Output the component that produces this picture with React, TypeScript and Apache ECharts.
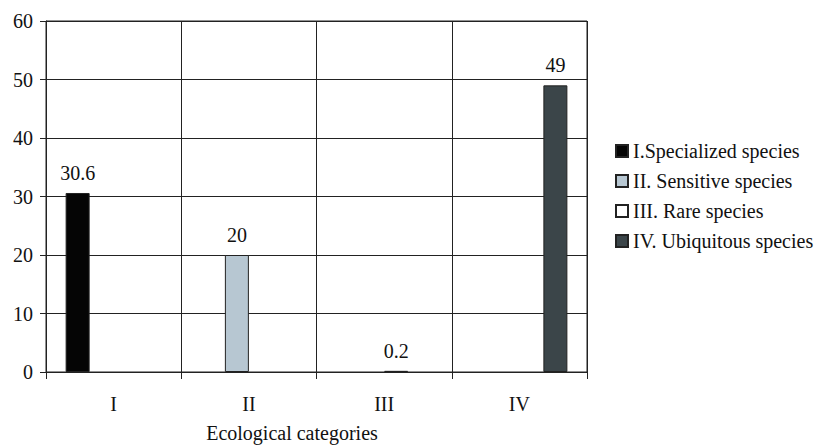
import React, { useEffect, useRef } from "react";
import * as echarts from "echarts";

const categories = ["I", "II", "III", "IV"];
const seriesNames = [
  "I.Specialized species",
  "II. Sensitive species",
  "III. Rare species",
  "IV. Ubiquitous species",
];
const values = [30.6, 20, 0.2, 49];
const colors = ["#050505", "#b7c7d2", "#ffffff", "#3b4549"];
const yTicks = [0, 60, 10];
const xAxisTitle = "Ecological categories";

const FONT = "'Liberation Serif', 'Times New Roman', serif";

export default function App() {
  const ref = useRef<HTMLDivElement>(null);
  useEffect(() => {
    if (!ref.current) return;
    const chart = echarts.init(ref.current, undefined, { renderer: "svg" });
    const series = seriesNames.map((name, i) => ({
      name,
      type: "bar",
      barWidth: 24,
      barGap: "0%",
      data: categories.map((_, j) => (j === i ? values[i] : "-")),
      itemStyle: { color: colors[i], borderColor: "#222", borderWidth: 1 },
      label: {
        show: true,
        position: "top",
        distance: 10,
        color: "#111",
        fontFamily: FONT,
        fontSize: 20,
      },
    }));
    chart.setOption({
      animation: false,
      backgroundColor: "#ffffff",
      grid: {
        left: 46,
        right: 245,
        top: 21,
        bottom: 75,
        show: true,
        borderColor: "#222",
        borderWidth: 1,
      },
      legend: {
        orient: "vertical",
        left: 610,
        top: 136,
        icon: "rect",
        itemWidth: 12,
        itemHeight: 12,
        itemGap: 10,
        textStyle: { fontFamily: FONT, fontSize: 20, color: "#111" },
        data: seriesNames,
      },
      xAxis: {
        type: "category",
        data: categories,
        boundaryGap: true,
        axisLine: { lineStyle: { color: "#222", width: 1 } },
        axisTick: { show: true, length: 7, lineStyle: { color: "#222" } },
        splitLine: { show: true, lineStyle: { color: "#222", width: 1 } },
        axisLabel: {
          fontFamily: FONT,
          fontSize: 20,
          color: "#111",
          margin: 22,
        },
      },
      yAxis: {
        type: "value",
        min: yTicks[0],
        max: yTicks[1],
        interval: yTicks[2],
        axisLine: { show: true, lineStyle: { color: "#222", width: 1 } },
        axisTick: { show: true, length: 6, lineStyle: { color: "#222" } },
        splitLine: { show: true, lineStyle: { color: "#222", width: 1 } },
        axisLabel: {
          fontFamily: FONT,
          fontSize: 20,
          color: "#111",
          margin: 13,
        },
      },
      graphic: [
        {
          type: "text",
          x: 292,
          y: 433,
          style: {
            text: xAxisTitle,
            fontFamily: FONT,
            fontSize: 20,
            fill: "#111",
            textAlign: "center",
            textVerticalAlign: "middle",
          },
        },
      ],
      series,
    });
    return () => chart.dispose();
  }, []);
  return (
    <div
      ref={ref}
      style={{ position: "fixed", left: 0, top: 0, width: 832, height: 447 }}
    />
  );
}
